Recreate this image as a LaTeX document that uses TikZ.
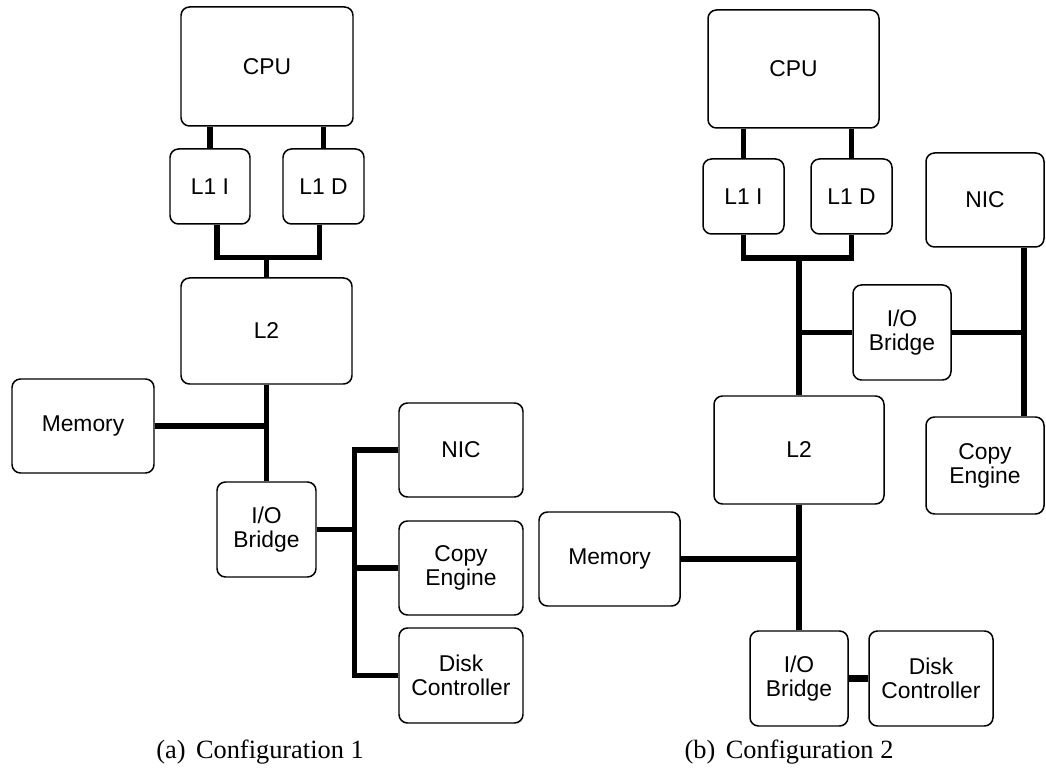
\documentclass[tikz,border=0pt]{standalone}
\usepackage{fontspec}
\setmainfont{Liberation Serif}
\newfontfamily\boxfont{Liberation Sans}
\usetikzlibrary{calc}

\tikzset{
  box/.style={draw, line width=0.85pt, rounded corners=0.17cm, align=center,
    inner sep=0pt, font=\boxfont\fontsize{13}{13.6}\selectfont},
  bus/.style={line width=2.9pt},
  caption/.style={font=\fontsize{15}{17}\selectfont}
}

\begin{document}
\begin{tikzpicture}[x=0.02cm,y=-0.02cm]
\useasboundingbox (0,0) rectangle (1046,773);

% configuration 1
\begin{scope}
\node[box, minimum width=172*0.02cm, minimum height=119*0.02cm] (cpuA) at (267,66.5) {CPU};
\node[box, minimum width=80*0.02cm, minimum height=75*0.02cm] (l1iA) at (210,186.5) {L1 I};
\node[box, minimum width=81*0.02cm, minimum height=75*0.02cm] (l1dA) at (323.5,186.5) {L1 D};
\node[box, minimum width=171*0.02cm, minimum height=106*0.02cm] (l2A) at (266.5,331) {L2};
\node[box, minimum width=142*0.02cm, minimum height=94*0.02cm] (memA) at (83,426) {Memory};
\node[box, minimum width=99*0.02cm, minimum height=95*0.02cm] (iobA) at (266.5,529.5) {I/O\\Bridge};
\node[box, minimum width=124*0.02cm, minimum height=94*0.02cm] (nicA) at (461,450) {NIC};
\node[box, minimum width=124*0.02cm, minimum height=94*0.02cm] (copyA) at (461,568) {Copy\\Engine};
\node[box, minimum width=124*0.02cm, minimum height=95*0.02cm] (diskA) at (461,675.5) {Disk\\Controller};

\draw[bus] (l1iA.north) -- (l1iA.north |- cpuA.south);
\draw[bus] (l1dA.north) -- (l1dA.north |- cpuA.south);
\coordinate (jA) at ($(l2A.north)+(0,-20)$);
\draw[bus] ($(l1iA.south)+(7,0)$) |- (jA) -| ($(l1dA.south)+(-4,0)$);
\draw[bus] (jA) -- (l2A.north);
\draw[bus] (l2A.south) -- (iobA.north);
\draw[bus] (memA.east) -- (memA.east -| l2A.south);
\coordinate (busA) at ($(nicA.west)+(-44,0)$);
\draw[bus] (nicA.west) -- (busA) |- (diskA.west);
\draw[bus] (copyA.west) -- (copyA.west -| busA);
\draw[bus] (iobA.east) -- (iobA.east -| busA);

\node[caption] (capA) at (260,752) {(a)\hspace{0.4em}Configuration 1};
\end{scope}

% configuration 2
\begin{scope}
\node[box, minimum width=171*0.02cm, minimum height=118*0.02cm] (cpuB) at (793.5,69) {CPU};
\node[box, minimum width=81*0.02cm, minimum height=75*0.02cm] (l1iB) at (743.5,196.5) {L1 I};
\node[box, minimum width=81*0.02cm, minimum height=75*0.02cm] (l1dB) at (851.5,196.5) {L1 D};
\node[box, minimum width=170*0.02cm, minimum height=108*0.02cm] (l2B) at (799,450) {L2};
\node[box, minimum width=98*0.02cm, minimum height=95*0.02cm] (iobB) at (902,332.5) {I/O\\Bridge};
\node[box, minimum width=118*0.02cm, minimum height=94*0.02cm] (nicB) at (985,200) {NIC};
\node[box, minimum width=118*0.02cm, minimum height=97*0.02cm] (copyB) at (985,465.5) {Copy\\Engine};
\node[box, minimum width=141*0.02cm, minimum height=94*0.02cm] (memB) at (609.5,559) {Memory};
\node[box, minimum width=98*0.02cm, minimum height=95*0.02cm] (iobC) at (799,678.5) {I/O\\Bridge};
\node[box, minimum width=124*0.02cm, minimum height=95*0.02cm] (diskB) at (931,678.5) {Disk\\Controller};

\draw[bus] (l1iB.north) -- (l1iB.north |- cpuB.south);
\draw[bus] (l1dB.north) -- (l1dB.north |- cpuB.south);
\coordinate (jB) at (l2B.north |- 0,258);
\draw[bus] (l1iB.south) |- (jB) -| (l1dB.south);
\draw[bus] (jB) -- (l2B.north);
\draw[bus] (iobB.west) -- (iobB.west -| jB);
\coordinate (busB) at ($(nicB.south)+(39,0)$);
\draw[bus] (busB) -- (busB |- copyB.north);
\draw[bus] (iobB.east) -- (iobB.east -| busB);
\draw[bus] (l2B.south) -- (iobC.north);
\draw[bus] (memB.east) -- (memB.east -| l2B.south);
\draw[bus, line width=4pt] (iobC.east) -- (diskB.west);

\node[caption] (capB) at (789,752) {(b)\hspace{0.4em}Configuration 2};
\end{scope}

\end{tikzpicture}
\end{document}
